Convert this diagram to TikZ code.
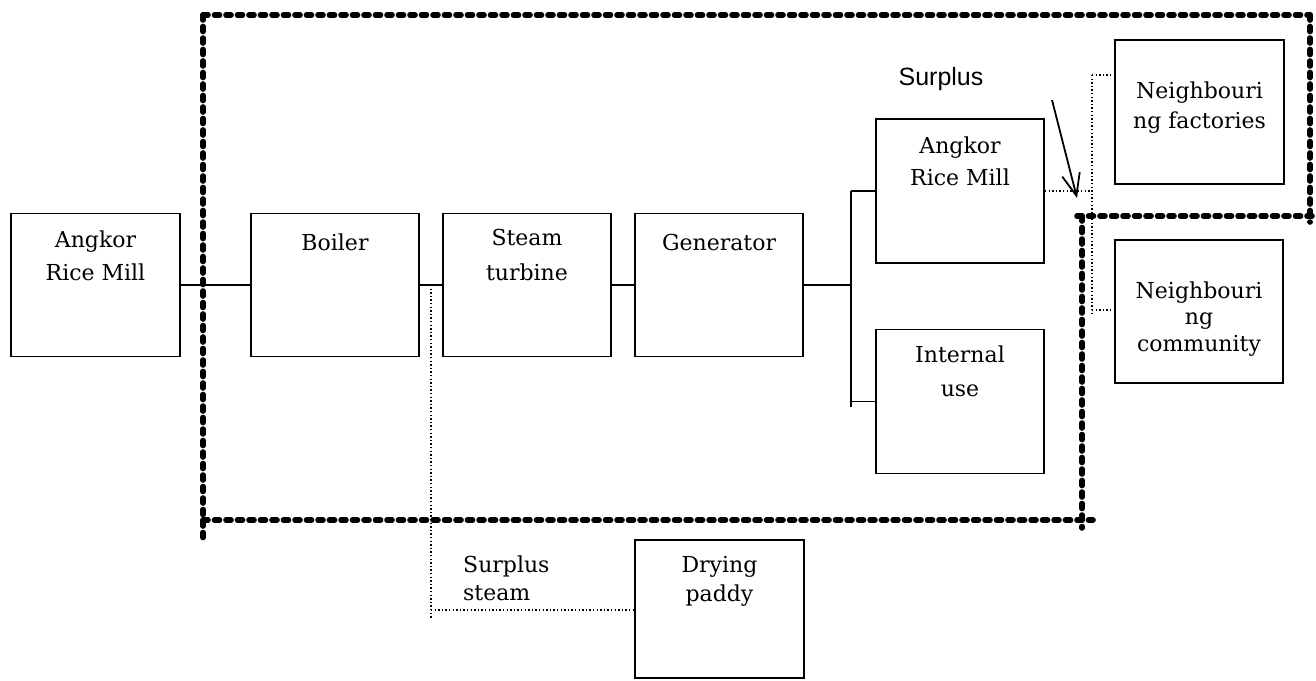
\documentclass[tikz,border=0pt]{standalone}
\usepackage{fontspec}
\setmainfont{DejaVu Serif}
\newfontfamily\sansf{Liberation Sans}
\usetikzlibrary{arrows.meta}
\tikzset{
  box/.style={draw, line width=1.8pt, inner sep=0pt, minimum width=168pt, minimum height=143pt},
  txt/.style={anchor=north, inner sep=0pt, align=center},
  conn/.style={line width=1.8pt},
  dots/.style={line width=1.4pt, dash pattern=on 1.4pt off 2.2pt},
  border/.style={line width=5.6pt, line cap=round, dash pattern=on 5pt off 6.5pt},
}
\begin{document}
\begin{tikzpicture}[x=1pt, y=-1pt]
\useasboundingbox (0,0) rectangle (1316,680);
% boxes
\node[box, minimum width=169pt] (mill1) at (95.5,285) {};
\node[box] (boiler) at (335,285) {};
\node[box] (turb) at (527,285) {};
\node[box] (gen) at (719,285) {};
\node[box, minimum height=144pt] (mill2) at (960,191) {};
\node[box, minimum height=144pt] (intern) at (960,401.5) {};
\node[box, minimum width=169pt, minimum height=144pt] (fact) at (1199.5,112) {};
\node[box] (comm) at (1199,311.5) {};
\node[box, minimum width=169pt, minimum height=138pt] (dry) at (719.5,609) {};
% texts
\node[txt, font=\fontsize{22}{33}\selectfont] (t1) at (95.5,230.5) {Angkor\\Rice Mill};
\node[txt, font=\fontsize{22}{33}\selectfont] (t2) at (335,233.5) {Boiler};
\node[txt, font=\fontsize{22}{35}\selectfont] (t3) at (527,228.5) {Steam\\turbine};
\node[txt, font=\fontsize{22}{33}\selectfont] (t4) at (719,233.5) {Generator};
\node[txt, font=\fontsize{22}{32}\selectfont] (t5) at (960,136.5) {Angkor\\Rice Mill};
\node[txt, font=\fontsize{22}{34}\selectfont] (t6) at (960,345.5) {Internal\\use};
\node[txt, font=\fontsize{22}{30}\selectfont] (t7) at (1199.5,81.5) {Neighbouri\\ng factories};
\node[txt, font=\fontsize{22}{26.5}\selectfont] (t8) at (1199,281.5) {Neighbouri\\ng\\community};
\node[txt, font=\fontsize{22}{29}\selectfont] (t9) at (719.5,556.5) {Drying\\paddy};
\node[txt, anchor=north west, align=left, font=\fontsize{22}{28}\selectfont] (t10) at (463,555.5) {Surplus\\steam};
\node[txt, font=\sansf\fontsize{25}{30}\selectfont] (t11) at (941,67) {Surplus};
% solid connectors
\coordinate (bm) at (851,285);
\coordinate (bt) at (851,191);
\coordinate (bb) at (851,407);
\coordinate (bi) at (851,401.5);
\draw[conn] (mill1.east) -- (boiler.west);
\draw[conn] (boiler.east) -- (turb.west);
\draw[conn] (turb.east) -- (gen.west);
\draw[conn] (gen.east) -- (bm);
\draw[conn] (bt) -- (bb);
\draw[conn] (bt) -- (mill2.west);
\draw[conn] (bi) -- (intern.west);
% dotted connectors
\coordinate (dm) at (1092,191);
\coordinate (df) at (1092,75);
\coordinate (dc) at (1092,310);
\coordinate (dcb) at (1092,315);
\draw[dots] (mill2.east) -- (dm);
\draw[dots] (df) -- (dcb);
\draw[dots] (df) -- (df -| fact.west);
\draw[dots] (dc) -- (dc -| comm.west);
\coordinate (st) at (431,285);
\coordinate (sb) at (431,618);
\coordinate (sh) at (431,610);
\draw[dots] (st) -- (sb);
\draw[dots] (sh) -- (sh -| dry.west);
% surplus arrow
\coordinate (a1) at (1052,100);
\coordinate (a2) at (1077,198);
\draw[conn, -{Straight Barb[length=22pt, width=18pt, line width=1.8pt]}] (a1) -- (a2);
% thick dashed boundary
\coordinate (p1) at (203,15);
\coordinate (p2) at (1310,15);
\coordinate (p3) at (203,543);
\coordinate (p4) at (1310,222);
\coordinate (p5) at (1077,216);
\coordinate (p6) at (1312,216);
\coordinate (p7) at (1082,216);
\coordinate (p8) at (1082,528);
\coordinate (p9) at (203,520);
\coordinate (p10) at (1093,520);
\draw[border] (p1) -- (p2);
\draw[border] (p1) -- (p3);
\draw[border] (p2) -- (p4);
\draw[border] (p5) -- (p6);
\draw[border] (p7) -- (p8);
\draw[border] (p9) -- (p10);
\end{tikzpicture}
\end{document}
